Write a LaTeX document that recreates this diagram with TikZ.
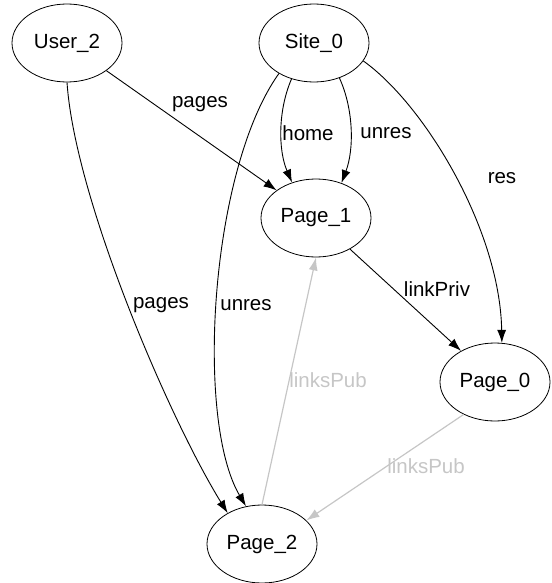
\documentclass[tikz,border=0pt]{standalone}
\usepackage{fontspec}
\setmainfont{Liberation Sans}
\usetikzlibrary{arrows.meta, shapes.geometric}

\begin{document}
\begin{tikzpicture}[x=1pt, y=-1pt, >={Latex[length=13pt,width=9pt]},
    font=\fontsize{20.5}{24}\selectfont,
    vertex/.style={draw, ellipse, line width=0.8pt, minimum width=110pt, minimum height=78pt, inner sep=0pt},
    edge/.style={->, line width=0.9pt},
    pubedge/.style={edge, line width=1.2pt, gray!45},
    pubtext/.style={text=gray!45}]

    \useasboundingbox (0,0) rectangle (551,583);

    % 1. Các đỉnh của đồ thị
    \node[vertex] (user2) at (67,43) {User\_2};
    \node[vertex] (site0) at (314,43) {Site\_0};
    \node[vertex] (page1) at (316,218) {Page\_1};
    \node[vertex] (page0) at (495,382) {Page\_0};
    \node[vertex] (page2) at (262,544) {Page\_2};

    % 2. Các cạnh đi ra từ User_2
    \draw[edge] (user2) -- (page1);
    \node (lblpagesA) at (200,104) {pages};
    \draw[edge] (user2.south) .. controls (75,200) and (170,420) .. (page2.138);
    \node (lblpagesB) at (161,305) {pages};

    % 3. Các cạnh đi ra từ Site_0
    \draw[edge] (site0.-122) .. controls (278,110) and (278,150) .. (page1.124);
    \node (lblhome) at (308,133) {home};
    \draw[edge] (site0.-54) .. controls (354,110) and (354,150) .. (page1.54);
    \node (lblunresA) at (386,133) {unres};
    \draw[edge] (site0.-20) .. controls (425,105) and (500,230) .. (page0.80);
    \node (lblres) at (502,178) {res};
    \draw[edge] (site0.-139) .. controls (210,170) and (195,420) .. (page2.113);
    \node (lblunresB) at (246,305) {unres};

    % 4. Cạnh linkPriv
    \draw[edge] (page1) -- (page0);
    \node (lblpriv) at (437,289) {linkPriv};

    % 5. Các cạnh linksPub (màu xám nhạt)
    \draw[pubedge] (page2.north) -- (page1.south);
    \node[pubtext] (lblpubA) at (328,380) {linksPub};
    \draw[pubedge] (page0.-134) -- (page2.28);
    \node[pubtext] (lblpubB) at (426,466) {linksPub};

\end{tikzpicture}
\end{document}
